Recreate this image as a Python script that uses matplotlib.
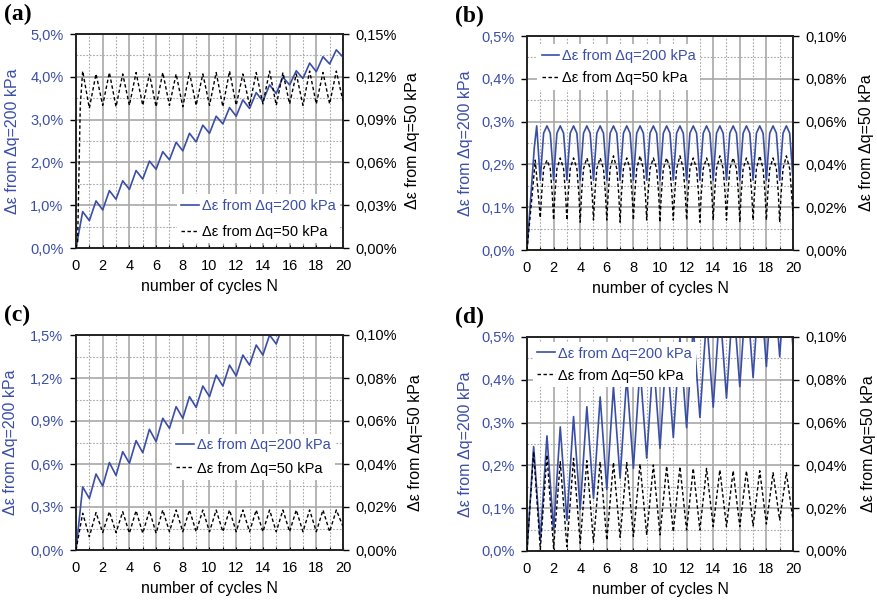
import numpy as np
import matplotlib
matplotlib.use("Agg")
import matplotlib.pyplot as plt
from matplotlib.ticker import MultipleLocator, FuncFormatter
from matplotlib.lines import Line2D

plt.rcParams['font.family'] = ['Liberation Sans', 'DejaVu Sans']

BLUE = '#3a4ea8'
GRID = '#a8a8a8'

# ---- data (strain in %) : peaks at N = n + 0.5, troughs at N = n ----
# panel (a)
a_blue_peaks = [0.85, 1.10, 1.34, 1.57, 1.81, 2.03, 2.25, 2.47, 2.68, 2.87,
                3.08, 3.28, 3.46, 3.63, 3.81, 3.99, 4.14, 4.32, 4.47, 4.63]
a_blue_troughs = [0.64, 0.89, 1.14, 1.37, 1.61, 1.84, 2.06, 2.27, 2.48, 2.68,
                  2.90, 3.08, 3.26, 3.43, 3.61, 3.81, 3.96, 4.12, 4.30, 4.46]
a_black_start = [(0.0, 0.0), (0.12, 0.004), (0.32, 0.100)]
a_black_peaks = [0.124, 0.122, 0.123, 0.122, 0.123, 0.122, 0.123, 0.122, 0.123, 0.122,
                 0.123, 0.124, 0.122, 0.123, 0.124, 0.123, 0.122, 0.124, 0.123, 0.124]
a_black_troughs = [0.098, 0.100, 0.099, 0.100, 0.100, 0.099, 0.100, 0.099, 0.100, 0.100,
                   0.099, 0.100, 0.100, 0.101, 0.100, 0.101, 0.100, 0.101, 0.101, 0.103]

# panel (b)
b_blue_start = [(0.0, 0.0), (0.55, 0.24), (0.73, 0.29)]
b_blue_peaks = [0.29] * 19
b_blue_troughs = [0.163] * 19 + [0.165]
b_blue_shoulders = (0.21, 0.273)
b_black_start = [(0.0, 0.0), (0.45, 0.030), (0.62, 0.042)]
b_black_peaks = [0.042, 0.043, 0.043, 0.043, 0.043, 0.044, 0.043, 0.044, 0.043, 0.043,
                 0.044, 0.043, 0.043, 0.044, 0.043, 0.043, 0.044, 0.043, 0.044]
b_black_troughs = [0.015, 0.014, 0.014, 0.013, 0.014, 0.014, 0.013, 0.014, 0.014, 0.013,
                   0.014, 0.014, 0.013, 0.014, 0.014, 0.013, 0.014, 0.014, 0.013, 0.016]
b_black_shoulders = (0.026, 0.038)

# panel (c)
c_blue_peaks = [0.44, 0.53, 0.61, 0.686, 0.763, 0.842, 0.919, 1.00, 1.07, 1.144,
                1.22, 1.29, 1.36, 1.43, 1.50, 1.57]
c_blue_troughs = [0.36, 0.446, 0.52, 0.605, 0.679, 0.756, 0.849, 0.919, 0.995, 1.07,
                  1.144, 1.214, 1.29, 1.36, 1.437, 1.50]
c_black_peaks = [0.0171, 0.0174, 0.0178, 0.0178, 0.0183, 0.0183, 0.0186, 0.0186, 0.0186, 0.0186,
                 0.0186, 0.0186, 0.0186, 0.0186, 0.0186, 0.0186, 0.0186, 0.0186, 0.0186, 0.0186]
c_black_troughs = [0.0062, 0.0081, 0.0081, 0.0078, 0.0078, 0.0078, 0.0085, 0.0085, 0.0085, 0.0085,
                   0.0085, 0.0085, 0.0085, 0.0085, 0.0085, 0.0085, 0.0085, 0.0085, 0.0085, 0.0110]

# panel (d)
d_blue_peaks = [0.244, 0.269, 0.290, 0.314, 0.337, 0.360, 0.384, 0.407, 0.430, 0.454,
                0.477, 0.500, 0.523, 0.546, 0.570, 0.593, 0.616, 0.640, 0.663, 0.686]
d_blue_troughs = [0.026, 0.049, 0.072, 0.097, 0.123, 0.144, 0.170, 0.193, 0.217, 0.240,
                  0.265, 0.288, 0.312, 0.336, 0.357, 0.384, 0.405, 0.431, 0.454, 0.475]
d_black_peaks = [0.0464, 0.0449, 0.0417, 0.0433, 0.0422, 0.0417, 0.0414, 0.0413, 0.0407, 0.0402,
                 0.0397, 0.0394, 0.0386, 0.0386, 0.0379, 0.0375, 0.0375, 0.0375, 0.0366, 0.0366]
d_black_troughs = [0.0008, 0.0013, 0.0020, 0.0036, 0.0040, 0.0050, 0.0064, 0.0068, 0.0075, 0.0075,
                   0.0090, 0.0098, 0.0098, 0.0114, 0.0114, 0.0114, 0.0117, 0.0126, 0.0145, 0.0145]

left_max = {'a': 5.0, 'b': 0.5, 'c': 1.5, 'd': 0.5}
left_step = {'a': 1.0, 'b': 0.1, 'c': 0.3, 'd': 0.1}
right_max = {'a': 0.15, 'b': 0.10, 'c': 0.10, 'd': 0.10}
right_step = {'a': 0.03, 'b': 0.02, 'c': 0.02, 'd': 0.02}

# axes boxes in pixels: left, right, top, bottom
boxes = {'a': (76, 343, 34, 248), 'b': (527, 793, 36, 250),
         'c': (76, 343, 335, 550), 'd': (527, 793, 337, 551)}
legend_anchor = {'a': (0.35, 0.285), 'b': (0.012, 0.995), 'c': (0.332, 0.575), 'd': (-0.005, 1.01)}
legend_spacing = {'a': 0.85, 'b': 0.6, 'c': 0.65, 'd': 0.55}
ylabel_left = {'a': -0.21, 'b': -0.202, 'c': -0.216, 'd': -0.204}
ylabel_right = {'a': 1.232, 'b': 1.248, 'c': 1.243, 'd': 1.256}

W, H = 878, 603


def zigzag(peaks, troughs, start=((0.0, 0.0),), peak0=0.5, trough0=1.0, shoulders=None):
    pts = list(start)
    for i, p in enumerate(peaks):
        pts.append((peak0 + i, p))
    for i, t in enumerate(troughs):
        pts.append((trough0 + i, t))
    if shoulders is not None:
        s1, s2 = shoulders
        for i in range(len(peaks)):
            t = trough0 + i
            pts += [(t + 0.1, s1), (t + 0.25, s2), (t + 0.75, s2), (t + 0.9, s1)]
    pts.sort()
    return [q[0] for q in pts], [q[1] for q in pts]


series = {
    'a': (zigzag(a_blue_peaks, a_blue_troughs),
          zigzag(a_black_peaks, a_black_troughs, start=a_black_start)),
    'b': (zigzag(b_blue_peaks, b_blue_troughs, start=b_blue_start, peak0=1.5,
                 shoulders=b_blue_shoulders),
          zigzag(b_black_peaks, b_black_troughs, start=b_black_start, peak0=1.5,
                 shoulders=b_black_shoulders)),
    'c': (zigzag(c_blue_peaks, c_blue_troughs), zigzag(c_black_peaks, c_black_troughs)),
    'd': (zigzag(d_blue_peaks, d_blue_troughs), zigzag(d_black_peaks, d_black_troughs)),
}

fig = plt.figure(figsize=(W / 100, H / 100), dpi=100)

for key in 'abcd':
    l, r, t, b = boxes[key]
    ax = fig.add_axes([l / W, (H - b) / H, (r - l) / W, (b - t) / H])
    ax2 = ax.twinx()

    (bx, by), (kx, ky) = series[key]
    ax.plot(bx, by, color=BLUE, lw=1.2, zorder=3)
    ax2.plot(kx, ky, color='black', lw=1.0, ls=(0, (2.5, 1.8)), zorder=3)

    ax.set_xlim(0, 20)
    ax.set_ylim(0, left_max[key])
    ax2.set_ylim(0, right_max[key])

    ax.xaxis.set_major_locator(MultipleLocator(2))
    ax.xaxis.set_minor_locator(MultipleLocator(1))
    ax.yaxis.set_major_locator(MultipleLocator(left_step[key]))
    ax.yaxis.set_minor_locator(MultipleLocator(left_step[key] / 2))
    ax2.yaxis.set_major_locator(MultipleLocator(right_step[key]))
    ax2.yaxis.set_minor_locator(MultipleLocator(right_step[key] / 2))

    ax.yaxis.set_major_formatter(FuncFormatter(lambda v, p: f"{v:.1f}%".replace('.', ',')))
    ax2.yaxis.set_major_formatter(FuncFormatter(lambda v, p: f"{v:.2f}%".replace('.', ',')))

    ax.grid(which='major', color=GRID, lw=1.2, ls='-')
    ax.grid(which='minor', color=GRID, lw=0.8, ls=(0, (1.5, 1.5)))
    ax.set_axisbelow(True)

    ax.tick_params(axis='y', which='major', direction='out', length=4, width=1,
                   labelsize=10.5, labelcolor=BLUE, pad=5)
    ax.tick_params(axis='y', which='minor', length=0)
    ax.tick_params(axis='x', which='both', direction='in', length=2.5, width=0.8,
                   labelsize=10.5, pad=8)
    ax2.tick_params(axis='y', which='major', direction='out', length=4, width=1,
                    labelsize=10.5, pad=5)
    ax2.tick_params(axis='y', which='minor', length=0)

    for a in (ax, ax2):
        for s in a.spines.values():
            s.set_linewidth(1.2)
            s.set_color('#222222')

    ax.set_xlabel('number of cycles N', fontsize=11.5, labelpad=4)
    ax.set_ylabel('Δε from Δq=200 kPa', fontsize=11.5, color=BLUE)
    ax2.set_ylabel('Δε from Δq=50 kPa', fontsize=11.5, color='black')
    ax.yaxis.set_label_coords(ylabel_left[key], 0.5)
    ax2.yaxis.set_label_coords(ylabel_right[key], 0.5)

    handles = [Line2D([], [], color=BLUE, lw=1.2),
               Line2D([], [], color='black', lw=1.0, ls=(0, (2.5, 1.8)))]
    leg = ax2.legend(handles, ['Δε from Δq=200 kPa', 'Δε from Δq=50 kPa'],
                     loc='upper left', bbox_to_anchor=legend_anchor[key],
                     fontsize=10.5, frameon=True, fancybox=False, framealpha=1,
                     edgecolor='none', facecolor='white', handlelength=1.2,
                     handletextpad=0.2, labelspacing=legend_spacing[key], borderpad=0.3,
                     labelcolor=[BLUE, 'black'])
    leg.set_zorder(5)

    fig.text((l - 72) / W, 1 - (t - 30) / H, f'({key})', family='Liberation Serif',
             fontweight='bold', fontsize=17, ha='left', va='top')

fig.savefig('out.png', dpi=100)
